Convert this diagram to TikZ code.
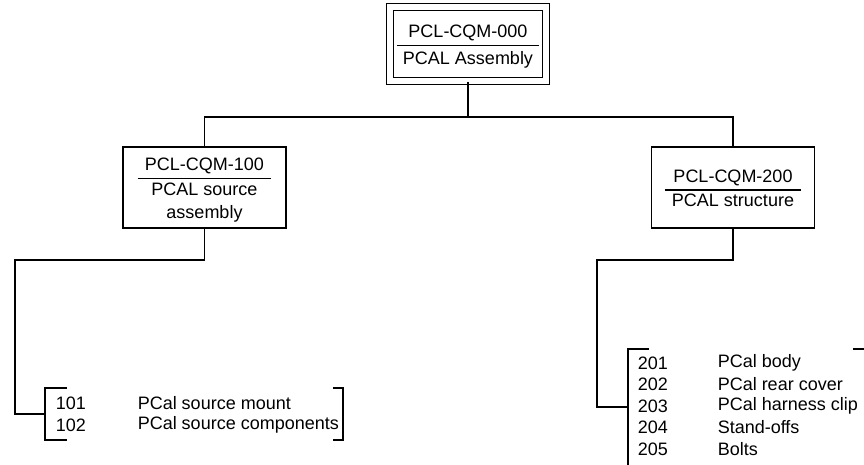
\documentclass[tikz,border=0pt]{standalone}
\usepackage{fontspec}
\setmainfont{Liberation Sans}
\newcommand\diagfont{\fontsize{18}{23}\selectfont}
\newcommand\toppad{\rule{0pt}{21pt}}
\setlength\arrayrulewidth{1.3pt}
\begin{document}
\begin{tikzpicture}[x=1pt,y=-1pt,line width=1.5pt,
  box/.style={draw,rectangle,inner sep=0pt,minimum width=163pt,minimum height=81pt,font=\diagfont,align=center},
  topbox/.style={draw,rectangle,inner sep=0pt,minimum width=156pt,minimum height=74pt,font=\diagfont,
     double,line width=1.3pt,double distance=5.2pt},
  item/.style={anchor=west,inner sep=0pt,font=\diagfont},
  wire/.style={draw,line width=1.5pt}]
\useasboundingbox (0,0) rectangle (864,465);
\clip (0,0) rectangle (864,465);

% boxes
\node[topbox] (top) at (468,44) {\begin{tabular}{@{\hspace{6pt}}c@{\hspace{6pt}}}\toppad PCL-CQM-000\\\hline \rule{0pt}{18pt}PCAL Assembly\end{tabular}};
\node[box] (b100) at (204.5,187.5) {\begin{tabular}{@{\hspace{7pt}}c@{\hspace{7pt}}}\toppad PCL-CQM-100\\\hline PCAL source\\ assembly\end{tabular}};
\node[box] (b200) at (733,187.5) {\begin{tabular}{@{\hspace{7pt}}c@{\hspace{7pt}}}\toppad PCL-CQM-200\\\hline PCAL structure\end{tabular}};

% bus
\coordinate (j) at (top.south |- 0,117);
\coordinate (busL) at (b100.north |- 0,117);
\coordinate (busR) at (b200.north |- 0,117);
\draw[wire] (top.south) -- (j);
\draw[wire] (b100.north) -- (busL) -- (busR) -- (b200.north);

% left list
\node[item] (n101) at (55,403) {101};
\node[item] (t101) at (137,403) {PCal source mount};
\node[item] (n102) at (55,425) {102};
\node[item] (t102) at (137,425) {PCal source components};
\coordinate (cL) at (15,260);
\coordinate (lb) at (45,414);
\draw[wire] (b100.south) |- (cL) |- (lb);
\draw[wire] (67,388) -- (45,388) -- (45,440) -- (67,440);
\draw[wire] (333,388) -- (343,388) -- (343,440) -- (333,440);

% right list
\node[item] (n201) at (637,363) {201};
\node[item] (t201) at (717,363) {PCal body};
\node[item] (n202) at (637,384.5) {202};
\node[item] (t202) at (717,384.5) {PCal rear cover};
\node[item] (n203) at (637,406) {203};
\node[item] (t203) at (717,406) {PCal harness clip};
\node[item] (n204) at (637,427.5) {204};
\node[item] (t204) at (717,427.5) {Stand-offs};
\node[item] (n205) at (637,449) {205};
\node[item] (t205) at (717,449) {Bolts};
\coordinate (cR) at (597,260);
\coordinate (rb) at (628,407);
\draw[wire] (b200.south) |- (cR) |- (rb);
\draw[wire] (649,349) -- (628,349) -- (628,470);
\draw[wire] (853,349) -- (872,349) -- (872,470);
\end{tikzpicture}
\end{document}
